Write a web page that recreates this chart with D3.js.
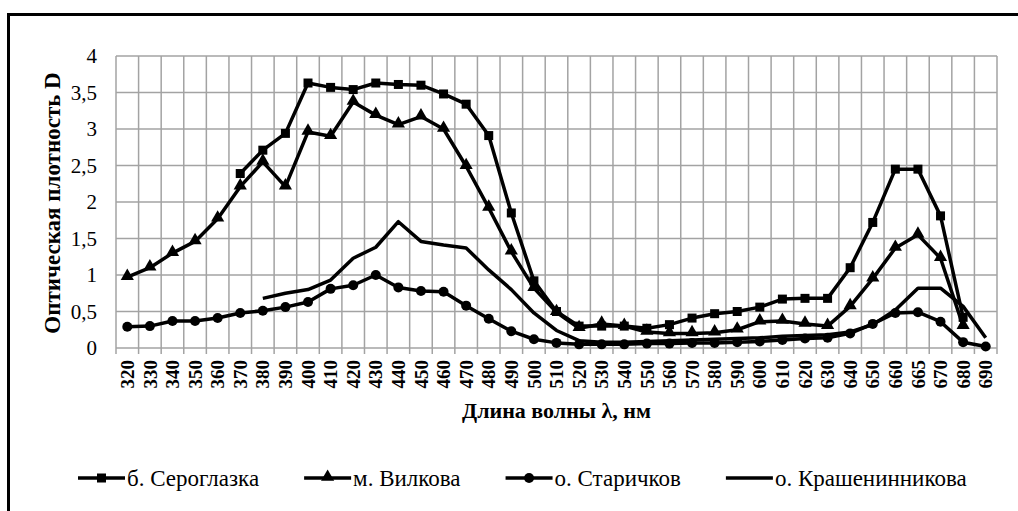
<!DOCTYPE html>
<html>
<head>
<meta charset="utf-8">
<script src="https://cdn.jsdelivr.net/npm/d3@7"></script>
<style>
  body { margin: 0; background: #fff; }
  svg { display: block; }
  svg text { font-family: "Liberation Serif", "DejaVu Serif", serif; }
</style>
</head>
<body>
<script>
var categories = ["320","330","340","350","360","370","380","390","400","410","420","430","440","450","460","470","480","490","500","510","520","530","540","550","560","570","580","590","600","610","620","630","640","650","660","665","670","680","690"];

var seroglazka = [null,null,null,null,null,2.39,2.71,2.94,3.63,3.57,3.54,3.63,3.61,3.60,3.48,3.34,2.91,1.85,0.92,0.50,0.30,0.30,0.30,0.27,0.32,0.41,0.47,0.50,0.56,0.67,0.68,0.68,1.10,1.72,2.45,2.45,1.81,0.42,null];
var vilkova = [0.97,1.10,1.30,1.46,1.77,2.21,2.55,2.21,2.96,2.90,3.37,3.19,3.06,3.17,3.00,2.49,1.92,1.32,0.82,0.49,0.27,0.33,0.30,0.22,0.20,0.20,0.21,0.25,0.36,0.37,0.33,0.30,0.57,0.95,1.37,1.55,1.23,0.30,null];
var starichkov = [0.29,0.30,0.37,0.37,0.41,0.48,0.51,0.56,0.63,0.81,0.86,1.00,0.83,0.78,0.77,0.58,0.40,0.23,0.12,0.07,0.05,0.05,0.05,0.06,0.06,0.07,0.07,0.08,0.09,0.11,0.13,0.14,0.20,0.33,0.48,0.49,0.36,0.08,0.02];
var krashen = [null,null,null,null,null,null,0.68,0.75,0.80,0.93,1.23,1.38,1.73,1.46,1.41,1.37,1.07,0.80,0.48,0.24,0.10,0.08,0.08,0.09,0.10,0.11,0.12,0.13,0.14,0.16,0.17,0.18,0.22,0.32,0.52,0.82,0.82,0.57,0.14];

var yTicks = [0, 0.5, 1, 1.5, 2, 2.5, 3, 3.5, 4];

var series = [
    {name: "б. Сероглазка", values: seroglazka, marker: "square"},
    {name: "м. Вилкова", values: vilkova, marker: "triangle"},
    {name: "о. Старичков", values: starichkov, marker: "circle"},
    {name: "о. Крашенинникова", values: krashen, marker: null}
];

(function() {
    var W = 1018, H = 511;
    var plotL = 116, plotR = 997, plotT = 56, plotB = 348;
    var serif = "'Liberation Serif', 'DejaVu Serif', serif";

    var svg = d3.select("body").append("svg")
        .attr("width", W)
        .attr("height", H)
        .attr("font-family", serif);

    // outer frame (right/bottom edges fall outside the picture)
    svg.append("rect")
        .attr("x", 8.5).attr("y", 14.5)
        .attr("width", 1100).attr("height", 600)
        .attr("fill", "none")
        .attr("stroke", "#000")
        .attr("stroke-width", 3);

    var x = d3.scaleBand()
        .domain(categories)
        .range([plotL, plotR])
        .padding(0);

    var y = d3.scaleLinear()
        .domain([0, 4])
        .range([plotB, plotT]);

    var fmt = function(d) { return String(d).replace(".", ","); };
    var cx = function(i) { return x(categories[i]) + x.bandwidth() / 2; };

    // horizontal grid
    svg.append("g").selectAll("line")
        .data(yTicks)
        .enter().append("line")
            .attr("x1", plotL).attr("x2", plotR)
            .attr("y1", function(d) { return y(d); })
            .attr("y2", function(d) { return y(d); })
            .attr("stroke", "#a3a3a3")
            .attr("stroke-width", 1.5);

    // vertical grid + ticks below the axis
    var edges = categories.map(function(c) { return x(c); }).concat([plotR]);
    svg.append("g").selectAll("line")
        .data(edges)
        .enter().append("line")
            .attr("x1", function(d) { return d; })
            .attr("x2", function(d) { return d; })
            .attr("y1", plotT)
            .attr("y2", plotB + 6)
            .attr("stroke", "#a3a3a3")
            .attr("stroke-width", 1.5);

    // y tick labels
    svg.append("g").selectAll("text")
        .data(yTicks)
        .enter().append("text")
            .attr("x", plotL - 19)
            .attr("y", function(d) { return y(d); })
            .attr("dy", "0.35em")
            .attr("text-anchor", "end")
            .attr("font-family", serif)
            .style("font-size", "21px")
            .text(fmt);

    // x tick labels, rotated
    svg.append("g").selectAll("text")
        .data(categories)
        .enter().append("text")
            .attr("transform", function(d, i) {
                return "translate(" + cx(i) + "," + (plotB + 12) + ") rotate(-90)";
            })
            .attr("dy", "0.35em")
            .attr("text-anchor", "end")
            .attr("font-family", serif)
            .style("font-size", "19px")
            .style("font-weight", "bold")
            .text(function(d) { return d; });

    // axis titles
    svg.append("text")
        .attr("transform", "translate(52,203) rotate(-90)")
        .attr("text-anchor", "middle")
        .attr("dy", "0.35em")
        .attr("font-family", serif)
        .style("font-size", "23px")
        .style("font-weight", "bold")
        .text("Оптическая плотность  D");

    svg.append("text")
        .attr("x", (plotL + plotR) / 2)
        .attr("y", 418)
        .attr("text-anchor", "middle")
        .attr("font-family", serif)
        .style("font-size", "22px")
        .style("font-weight", "bold")
        .text("Длина волны  λ, нм");

    var line = d3.line()
        .defined(function(d) { return d != null; })
        .x(function(d, i) { return cx(i); })
        .y(function(d) { return y(d); });

    function drawMarker(g, type, px, py) {
        if (type === "square") {
            g.append("rect")
                .attr("x", px - 4.5).attr("y", py - 4.5)
                .attr("width", 9).attr("height", 9)
                .attr("fill", "#000");
        } else if (type === "triangle") {
            g.append("path")
                .attr("d", d3.symbol().type(d3.symbolTriangle).size(75)())
                .attr("transform", "translate(" + px + "," + (py - 1) + ")")
                .attr("fill", "#000");
        } else if (type === "circle") {
            g.append("circle")
                .attr("cx", px).attr("cy", py).attr("r", 5)
                .attr("fill", "#000");
        }
    }

    series.forEach(function(s) {
        var g = svg.append("g");
        g.append("path")
            .datum(s.values)
            .attr("d", line)
            .attr("fill", "none")
            .attr("stroke", "#000")
            .attr("stroke-width", 3.5)
            .attr("stroke-linejoin", "round");
        if (s.marker) {
            s.values.forEach(function(v, i) {
                if (v == null) return;
                drawMarker(g, s.marker, cx(i), y(v));
            });
        }
    });

    // legend: items laid out left to right with even gaps
    var legendY = 478, lineLen = 47, gap = 45;
    var lx = 78;
    series.forEach(function(s) {
        var g = svg.append("g").attr("transform", "translate(" + lx + "," + legendY + ")");
        g.append("line")
            .attr("x1", 0).attr("x2", lineLen)
            .attr("stroke", "#000")
            .attr("stroke-width", 3.5);
        if (s.marker) drawMarker(g, s.marker, lineLen / 2, 0);
        var t = g.append("text")
            .attr("x", lineLen + 2)
            .attr("dy", "0.35em")
            .attr("font-family", serif)
            .style("font-size", "23px")
            .text(s.name);
        lx += lineLen + 2 + t.node().getComputedTextLength() + gap;
    });
})();
</script>
</body>
</html>
